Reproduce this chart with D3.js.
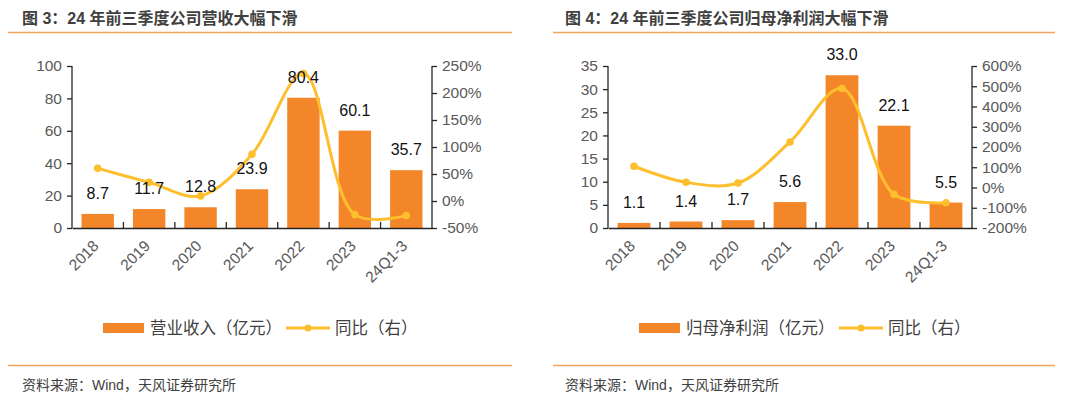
<!DOCTYPE html>
<html><head><meta charset="utf-8">
<script src="https://cdn.jsdelivr.net/npm/d3@7/dist/d3.min.js"></script>
<style>
body{margin:0;background:#fff;}
svg{display:block;font-family:"Liberation Sans",Arial,"Noto Sans CJK SC",sans-serif;}
.cjk{font-family:"Liberation Sans","Noto Sans CJK SC",sans-serif;}
</style></head>
<body>
<svg id="c" width="1080" height="395"></svg>
<script>
const categories = ["2018","2019","2020","2021","2022","2023","24Q1-3"];

const revenue = [8.7, 11.7, 12.8, 23.9, 80.4, 60.1, 35.7];
const revenueYoY = [60.5, 34.5, 9.4, 86.7, 236, -25.2, -27];
const revLeftTicks = [0,20,40,60,80,100];
const revRightTicks = [-50,0,50,100,150,200,250];

const profit = [1.1, 1.4, 1.7, 5.6, 33.0, 22.1, 5.5];
const profitYoY = [105, 26, 22, 225, 489, -33, -75];
const profLeftTicks = [0,5,10,15,20,25,30,35];
const profRightTicks = [-200,-100,0,100,200,300,400,500,600];

const titles = ["图 3：24 年前三季度公司营收大幅下滑", "图 4：24 年前三季度公司归母净利润大幅下滑"];
const barLegend = ["营业收入（亿元）", "归母净利润（亿元）"];
const lineLegend = "同比（右）";
const sourceText = "资料来源：Wind，天风证券研究所";

const BAR = "#F4862A", LINE = "#FDBF2D", ORANGE = "#F7A45C";
const svg = d3.select("#c");

function panel(cfg){
  const g = svg.append("g");
  g.append("text").attr("class","cjk").attr("x",cfg.titleX).attr("y",24)
    .attr("font-size",16).attr("font-weight","bold").attr("fill","#404040").text(cfg.title);
  g.append("line").attr("x1",cfg.lineX1).attr("x2",cfg.lineX2).attr("y1",32.5).attr("y2",32.5)
    .attr("stroke",ORANGE).attr("stroke-width",1.5);
  g.append("line").attr("x1",cfg.lineX1).attr("x2",cfg.lineX2).attr("y1",365.5).attr("y2",365.5)
    .attr("stroke",ORANGE).attr("stroke-width",1.5);
  g.append("text").attr("class","cjk").attr("x",cfg.titleX).attr("y",390)
    .attr("font-size",14).attr("fill","#404040").text(sourceText);

  const x = d3.scaleBand().domain(categories).range([cfg.left,cfg.right]).paddingInner(0.37).paddingOuter(0.185);
  const xb = d3.scaleBand().domain(categories).range([cfg.left,cfg.right]);
  const y = d3.scaleLinear().domain(cfg.yDom).range([228,66]);
  const y2 = d3.scaleLinear().domain(cfg.y2Dom).range([228,66]);

  g.selectAll("rect.bar").data(cfg.bars).enter().append("rect")
    .attr("x",(d,i)=>x(categories[i])).attr("width",x.bandwidth())
    .attr("y",d=>y(d)).attr("height",d=>228-y(d)).attr("fill",BAR);

  const ax = g.append("g").attr("transform",`translate(${cfg.left},0)`)
    .call(d3.axisLeft(y).tickValues(cfg.lTicks).tickSize(5).tickPadding(5));
  const ax2 = g.append("g").attr("transform",`translate(${cfg.right},0)`)
    .call(d3.axisRight(y2).tickValues(cfg.rTicks).tickSize(5).tickPadding(5).tickFormat(d=>d+"%"));
  const axb = g.append("g").attr("transform",`translate(0,228)`)
    .call(d3.axisBottom(xb).tickSize(0).tickFormat(""));
  [ax,ax2,axb].forEach(a=>{
    a.selectAll("path.domain").attr("stroke","#262626").attr("stroke-width",1.3);
    a.selectAll(".tick line").attr("stroke","#262626").attr("stroke-width",1.3);
    a.selectAll("text").attr("font-size",15.5).attr("fill","#595959").attr("font-family","Liberation Sans, Arial, sans-serif");
  });
  ax.select("path.domain").attr("d",`M-0,66V228`);
  ax2.select("path.domain").attr("d",`M0,66V228`);
  g.selectAll("line.xt").data(d3.range(1,categories.length)).enter().append("line")
    .attr("x1",i=>cfg.left+xb.step()*i).attr("x2",i=>cfg.left+xb.step()*i)
    .attr("y1",228).attr("y2",222).attr("stroke","#262626").attr("stroke-width",1.3);

  g.selectAll("text.xl").data(categories).enter().append("text")
    .attr("transform",d=>`translate(${xb(d)+xb.bandwidth()/2+2},${247}) rotate(-45)`)
    .attr("text-anchor","end").attr("font-size",15.5).attr("fill","#595959").text(d=>d);

  const line = d3.line().x((d,i)=>xb(categories[i])+xb.bandwidth()/2).y(d=>y2(d)).curve(d3.curveCatmullRom.alpha(0.5));
  g.append("path").datum(cfg.yoy).attr("d",line).attr("fill","none").attr("stroke",LINE).attr("stroke-width",3);
  g.selectAll("circle.pt").data(cfg.yoy).enter().append("circle")
    .attr("cx",(d,i)=>xb(categories[i])+xb.bandwidth()/2).attr("cy",d=>y2(d)).attr("r",3.8).attr("fill",LINE);

  g.selectAll("text.dl").data(cfg.bars).enter().append("text")
    .attr("x",(d,i)=>xb(categories[i])+xb.bandwidth()/2).attr("y",d=>y(d)-15)
    .attr("text-anchor","middle").attr("font-size",16).attr("fill","#111").text(d=>d.toFixed(1));

  g.append("rect").attr("x",cfg.legX).attr("y",323).attr("width",41).attr("height",10).attr("fill",BAR);
  g.append("text").attr("class","cjk").attr("x",cfg.legX+47).attr("y",334).attr("font-size",16.5).attr("fill","#404040").text(cfg.barLeg);
  g.append("line").attr("x1",cfg.leg2X).attr("x2",cfg.leg2X+44).attr("y1",328).attr("y2",328).attr("stroke",LINE).attr("stroke-width",3);
  g.append("circle").attr("cx",cfg.leg2X+22).attr("cy",328).attr("r",3.5).attr("fill",LINE);
  g.append("text").attr("class","cjk").attr("x",cfg.leg2X+49).attr("y",334).attr("font-size",16.5).attr("fill","#404040").text(lineLegend);
}

panel({title:titles[0], titleX:22, lineX1:8, lineX2:512, left:72, right:432,
  yDom:[0,100], y2Dom:[-50,250], lTicks:revLeftTicks, rTicks:revRightTicks,
  bars:revenue, yoy:revenueYoY, barLeg:barLegend[0], legX:103, leg2X:286});
panel({title:titles[1], titleX:565, lineX1:553, lineX2:1055, left:608, right:972,
  yDom:[0,35], y2Dom:[-200,600], lTicks:profLeftTicks, rTicks:profRightTicks,
  bars:profit, yoy:profitYoY, barLeg:barLegend[1], legX:639, leg2X:839});
</script>
</body></html>
